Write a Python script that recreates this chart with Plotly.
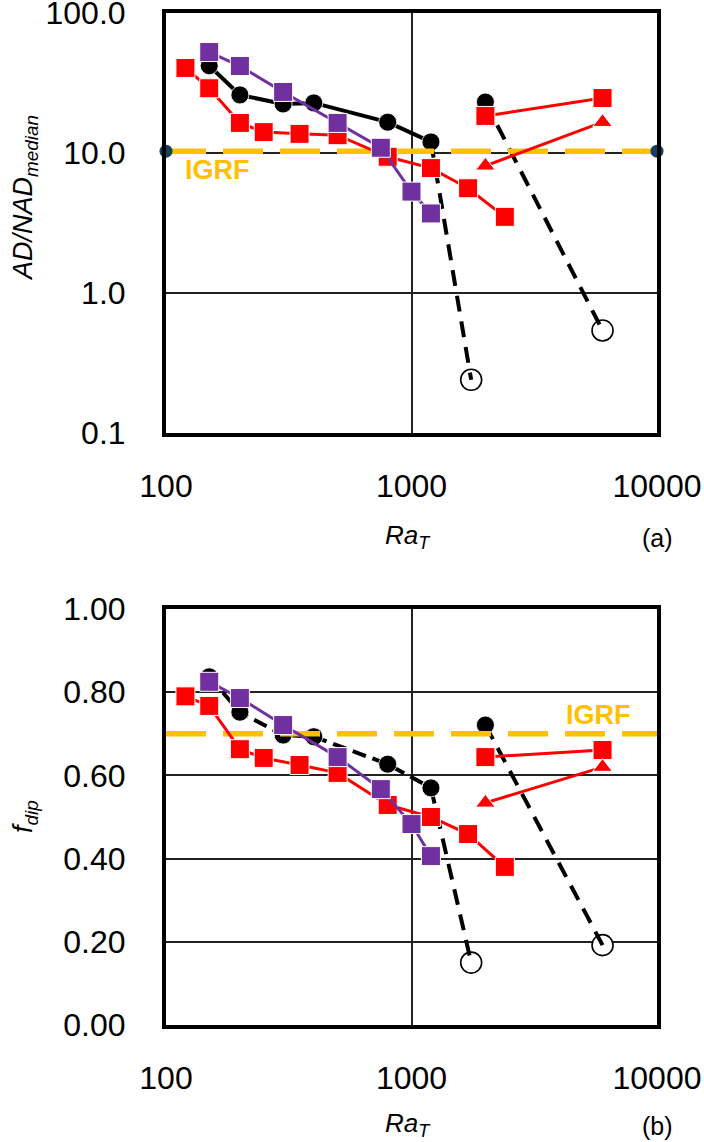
import plotly.graph_objects as go

W, H = 704, 1142

# ---------------- data ----------------
ra_red = [120, 150, 200, 250, 350, 500, 800, 1200, 1700, 2400]
ra_black = [150, 200, 300, 400, 800, 1200]
ra_purple = [150, 200, 300, 500, 750, 1000, 1200]
ra_pair = [2000, 6000]
ra_open = [1750, 6000]

# panel (a): AD/NAD_median
ad_red = [40.5, 29, 16.4, 14.1, 13.7, 13.4, 9.4, 7.8, 5.6, 3.5]
ad_black = [42, 26, 22.4, 22.8, 16.6, 12.0]
ad_purple = [52.6, 41.8, 27.3, 16.4, 10.9, 5.3, 3.7]
ad_black2 = 23.1
ad_open = [0.24, 0.54]
ad_red_sq2 = [18.4, 24.7]
ad_red_tri = [8.1, 16.6]
ad_igrf = 10.3

# panel (b): f_dip
f_red = [0.79, 0.767, 0.663, 0.642, 0.625, 0.606, 0.529, 0.50, 0.459, 0.38]
f_black = [0.837, 0.752, 0.697, 0.693, 0.627, 0.57]
f_purple = [0.825, 0.786, 0.721, 0.644, 0.567, 0.483, 0.406]
f_black2 = 0.721
f_open = [0.15, 0.192]
f_red_sq2 = [0.644, 0.661]
f_red_tri = [0.534, 0.62]
f_igrf = 0.70

x_range = [100, 10000]
x_ticks = [100, 1000, 10000]
x_ticktext = ["100", "1000", "10000"]
a_ticks = [0.1, 1, 10, 100]
a_ticktext = ["0.1", "1.0", "10.0", "100.0"]
b_ticks = [0, 0.2, 0.4, 0.6, 0.8, 1.0]
b_ticktext = ["0.00", "0.20", "0.40", "0.60", "0.80", "1.00"]

RED = "#FF0000"
PURPLE = "#7030A0"
GOLD = "#FFC000"
TEAL = "#17405A"


def px(x):
    return x / W


def py(y):
    return 1 - y / H


fig = go.Figure()


def add_panel(xa, ya, black, red, purple, black2, opn, red_sq2, red_tri, igrf,
              black_dash, igrf_dots):
    # black solid/dashed series
    fig.add_trace(go.Scatter(x=ra_black, y=black, mode="lines",
                             line=dict(color="black", width=4, dash=black_dash),
                             xaxis=xa, yaxis=ya, showlegend=False))
    # open circles
    fig.add_trace(go.Scatter(x=ra_open, y=opn, mode="markers",
                             marker=dict(symbol="circle", size=21, color="white",
                                         line=dict(color="black", width=1.6)),
                             xaxis=xa, yaxis=ya, showlegend=False))
    # dashed drops
    fig.add_trace(go.Scatter(x=[ra_black[-1], ra_open[0]], y=[black[-1], opn[0]],
                             mode="lines", line=dict(color="black", width=4, dash="16px,10px"),
                             xaxis=xa, yaxis=ya, showlegend=False))
    fig.add_trace(go.Scatter(x=[ra_pair[0], ra_open[1]], y=[black2, opn[1]],
                             mode="lines", line=dict(color="black", width=4, dash="16px,10px"),
                             xaxis=xa, yaxis=ya, showlegend=False))
    # black filled circles
    fig.add_trace(go.Scatter(x=ra_black + [ra_pair[0]], y=black + [black2], mode="markers",
                             marker=dict(symbol="circle", size=18, color="black",
                                         line=dict(color="white", width=0.8)),
                             xaxis=xa, yaxis=ya, showlegend=False))
    # IGRF line
    fig.add_trace(go.Scatter(x=x_range, y=[igrf, igrf], mode="lines",
                             line=dict(color=GOLD, width=5.5, dash="40px,17px"),
                             xaxis=xa, yaxis=ya, showlegend=False))
    if igrf_dots:
        fig.add_trace(go.Scatter(x=x_range, y=[igrf, igrf], mode="markers",
                                 marker=dict(size=13, color=TEAL), cliponaxis=False,
                                 xaxis=xa, yaxis=ya, showlegend=False))
    # red series
    fig.add_trace(go.Scatter(x=ra_red, y=red, mode="lines+markers",
                             line=dict(color=RED, width=3),
                             marker=dict(symbol="square", size=19, color=RED,
                                         line=dict(color="white", width=1)),
                             xaxis=xa, yaxis=ya, showlegend=False))
    fig.add_trace(go.Scatter(x=ra_pair, y=red_sq2, mode="lines+markers",
                             line=dict(color=RED, width=3),
                             marker=dict(symbol="square", size=19, color=RED,
                                         line=dict(color="white", width=1)),
                             xaxis=xa, yaxis=ya, showlegend=False))
    fig.add_trace(go.Scatter(x=ra_pair, y=red_tri, mode="lines+markers",
                             line=dict(color=RED, width=3),
                             marker=dict(symbol="triangle-up", size=17, color=RED,
                                         line=dict(color="white", width=1)),
                             xaxis=xa, yaxis=ya, showlegend=False))
    # purple series
    fig.add_trace(go.Scatter(x=ra_purple, y=purple, mode="lines+markers",
                             line=dict(color=PURPLE, width=3),
                             marker=dict(symbol="square", size=19, color=PURPLE,
                                         line=dict(color="white", width=1)),
                             xaxis=xa, yaxis=ya, showlegend=False))


add_panel("x", "y", ad_black, ad_red, ad_purple, ad_black2, ad_open,
          ad_red_sq2, ad_red_tri, ad_igrf, "solid", True)
add_panel("x2", "y2", f_black, f_red, f_purple, f_black2, f_open,
          f_red_sq2, f_red_tri, f_igrf, "14px,7px", False)

FONT = "Liberation Sans, Arial, sans-serif"
axis_common = dict(showline=True, linecolor="black", linewidth=4, mirror=True,
                   showgrid=True, gridcolor="#222222", gridwidth=1.5, automargin=False,
                   ticklabeloverflow="allow",
                   zeroline=False, ticks="", tickfont=dict(size=32, color="black", family=FONT))

x_dom = [px(166), px(657)]

fig.update_layout(
    width=W, height=H,
    margin=dict(l=0, r=0, t=0, b=0),
    paper_bgcolor="white", plot_bgcolor="white",
    font=dict(family=FONT, color="black"),
    xaxis=dict(type="log", range=[2, 4], domain=x_dom, anchor="y",
               tickvals=x_ticks, ticktext=x_ticktext, ticklabelstandoff=22, **axis_common),
    yaxis=dict(type="log", range=[-1, 2], domain=[py(433), py(13)], anchor="x",
               tickvals=a_ticks, ticktext=a_ticktext, ticklabelstandoff=30, **axis_common),
    xaxis2=dict(type="log", range=[2, 4], domain=x_dom, anchor="y2",
                tickvals=x_ticks, ticktext=x_ticktext, ticklabelstandoff=22, **axis_common),
    yaxis2=dict(range=[0, 1], domain=[py(1025), py(609)], anchor="x2",
                tickvals=b_ticks, ticktext=b_ticktext, ticklabelstandoff=30, **axis_common),
)

ann = [
    dict(text="<i>AD/NAD</i><sub><i>median</i></sub>", x=px(25), y=py(198), textangle=-90,
         font=dict(size=27)),
    dict(text="<i>f</i><sub><i>dip</i></sub>", x=px(25), y=py(817), textangle=-90,
         font=dict(size=27)),
    dict(text="<i>Ra</i><sub><i>T</i></sub>", x=px(408), y=py(536), font=dict(size=26)),
    dict(text="<i>Ra</i><sub><i>T</i></sub>", x=px(408), y=py(1124), font=dict(size=26)),
    dict(text="(a)", x=px(657), y=py(538), font=dict(size=25)),
    dict(text="(b)", x=px(657), y=py(1126), font=dict(size=25)),
    dict(text="<b>IGRF</b>", x=px(217), y=py(170), font=dict(size=27, color=GOLD)),
    dict(text="<b>IGRF</b>", x=px(598), y=py(715), font=dict(size=27, color=GOLD)),
]
for a in ann:
    fig.add_annotation(xref="paper", yref="paper", showarrow=False,
                       xanchor="center", yanchor="middle", **a)

fig.write_html("out.html")
